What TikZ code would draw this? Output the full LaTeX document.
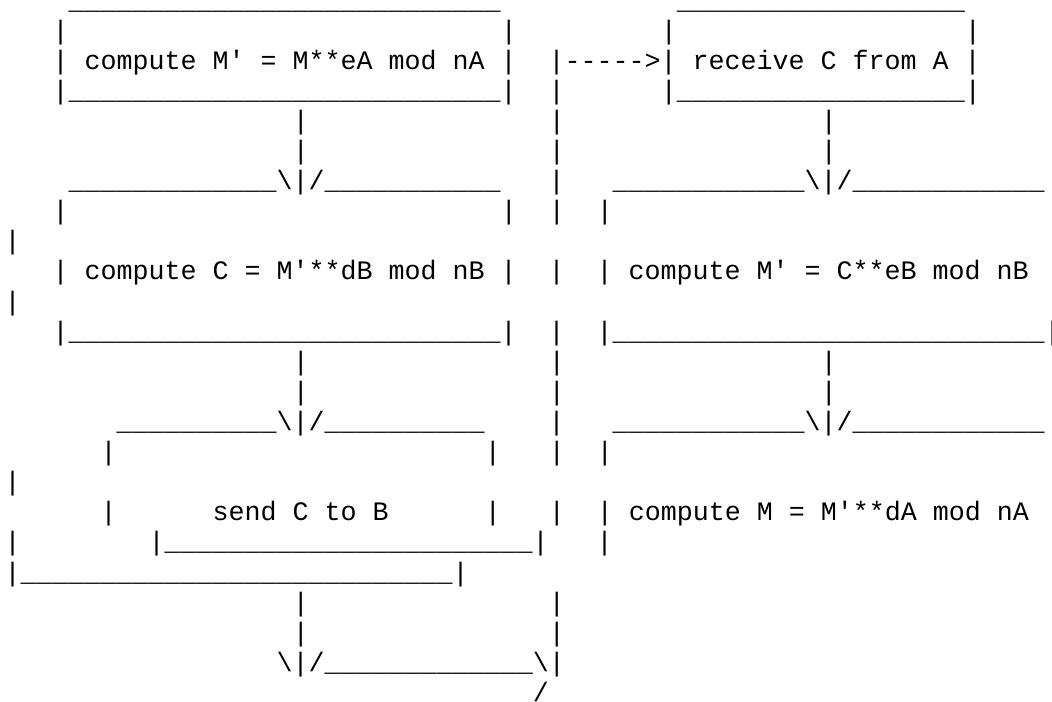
\documentclass[tikz,border=0pt]{standalone}
\usepackage{fontspec}
\newfontfamily\asciifont{Liberation Mono}
\ExplSyntaxOn
\NewDocumentCommand\unders{m}{\prg_replicate:nn{#1}{\_}}
\ExplSyntaxOff
\newcommand\blank[1]{\kern\dimexpr#1\fontcharwd\font`0\relax}
\newcommand\bs{\textbackslash}

\begin{document}
\begin{tikzpicture}[x=12pt,y=-22.575pt,
                    row/.style={anchor=base west,inner sep=0pt,outer sep=0pt,
                                font=\asciifont\fontsize{20pt}{22.575pt}\selectfont}]

  \useasboundingbox (-0.294,0.698) rectangle (65.456,24.02);

  % one node per text line, columns 12pt wide
  \node[row] (r1)  at (0,1)  {\blank{4}\unders{27}\blank{11}\unders{18}};
  \node[row] (r2)  at (0,2)  {\blank{3}|\blank{27}|\blank{9}|\blank{18}|};
  \node[row] (r3)  at (0,3)  {\blank{3}| compute M' = M**eA mod nA |\blank{2}|----->| receive C from A |};
  \node[row] (r4)  at (0,4)  {\blank{3}|\unders{27}|\blank{2}|\blank{6}|\unders{18}|};
  \node[row] (r5)  at (0,5)  {\blank{18}|\blank{15}|\blank{16}|};
  \node[row] (r6)  at (0,6)  {\blank{18}|\blank{15}|\blank{16}|};
  \node[row] (r7)  at (0,7)  {\blank{4}\unders{13}\bs|/\unders{11}\blank{3}|\blank{3}\unders{12}\bs|/\unders{12}};
  \node[row] (r8)  at (0,8)  {\blank{3}|\blank{27}|\blank{2}|\blank{2}|};
  \node[row] (r9)  at (0,9)  {|};
  \node[row] (r10) at (0,10) {\blank{3}| compute C = M'**dB mod nB |\blank{2}|\blank{2}| compute M' = C**eB mod nB};
  \node[row] (r11) at (0,11) {|};
  \node[row] (r12) at (0,12) {\blank{3}|\unders{27}|\blank{2}|\blank{2}|\unders{27}|};
  \node[row] (r13) at (0,13) {\blank{18}|\blank{15}|\blank{16}|};
  \node[row] (r14) at (0,14) {\blank{18}|\blank{15}|\blank{16}|};
  \node[row] (r15) at (0,15) {\blank{7}\unders{10}\bs|/\unders{10}\blank{4}|\blank{3}\unders{12}\bs|/\unders{12}};
  \node[row] (r16) at (0,16) {\blank{6}|\blank{23}|\blank{3}|\blank{2}|};
  \node[row] (r17) at (0,17) {|};
  \node[row] (r18) at (0,18) {\blank{6}|\blank{6}send C to B\blank{6}|\blank{3}|\blank{2}| compute M = M'**dA mod nA};
  \node[row] (r19) at (0,19) {|\blank{8}|\unders{23}|\blank{3}|};
  \node[row] (r20) at (0,20) {|\unders{27}|};
  \node[row] (r21) at (0,21) {\blank{18}|\blank{15}|};
  \node[row] (r22) at (0,22) {\blank{18}|\blank{15}|};
  \node[row] (r23) at (0,23) {\blank{17}\bs|/\unders{13}\bs|};
  \node[row] (r24) at (0,24) {\blank{33}/};
\end{tikzpicture}
\end{document}
